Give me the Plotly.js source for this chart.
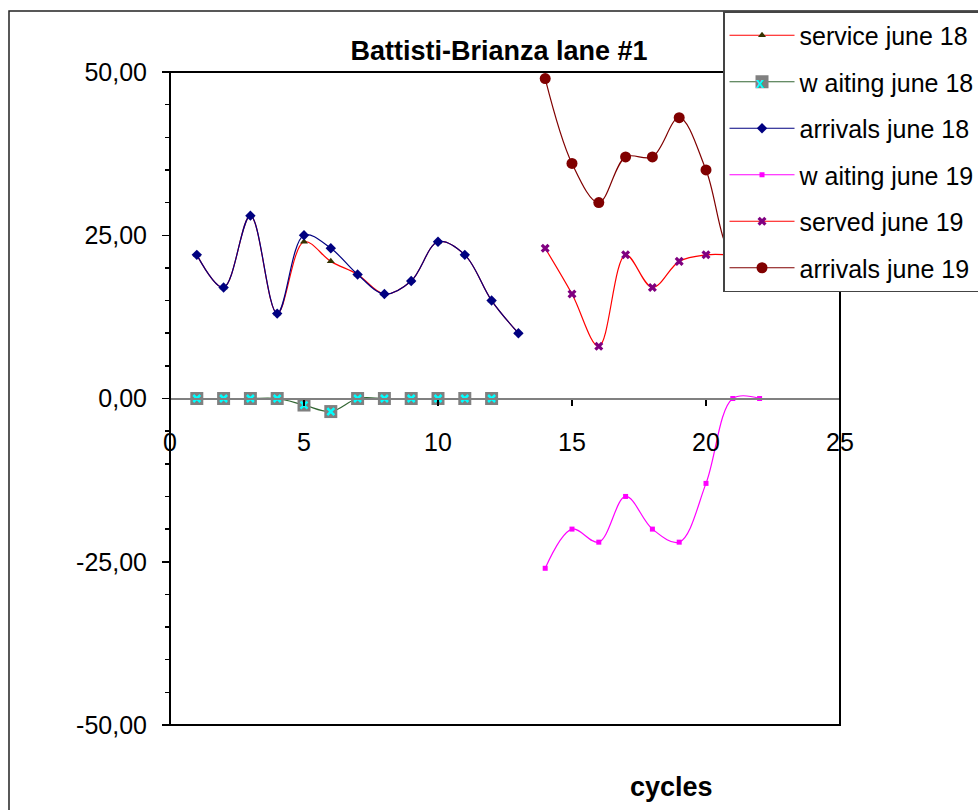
<!DOCTYPE html>
<html>
<head>
<meta charset="utf-8">
<script src="https://cdn.plot.ly/plotly-3.0.1.min.js"></script>
<style>
  html, body { margin: 0; padding: 0; background: #ffffff; }
  #chart { width: 978px; height: 810px; }
</style>
</head>
<body>
<div id="chart"></div>
<script>
// Lane #1 counts per signal cycle
const cycles18 = [1, 2, 3, 4, 5, 6, 7, 8, 9, 10, 11, 12, 13];
const service18 = [22, 17, 28, 13, 24, 21, 19, 16, 18, 24, 22, 15, 10];
const arrivals18 = [22, 17, 28, 13, 25, 23, 19, 16, 18, 24, 22, 15, 10];
const cyclesWaiting18 = [1, 2, 3, 4, 5, 6, 7, 8, 9, 10, 11, 12];
const waiting18 = [0, 0, 0, 0, -1, -2, 0, 0, 0, 0, 0, 0];

const cycles19 = [14, 15, 16, 17, 18, 19, 20, 21, 22];
const waiting19 = [-26, -20, -22, -15, -20, -22, -13, 0, 0];
const served19 = [23, 16, 8, 22, 17, 21, 22, 22, 22];
const arrivals19 = [49, 36, 30, 37, 37, 43, 35, 22, 22];

const seriesNames = ['service june 18', 'w aiting june 18', 'arrivals june 18',
                     'w aiting june 19', 'served june 19', 'arrivals june 19'];
const xTicks = [0, 5, 10, 15, 20, 25];
const yTicks = [-50, -25, 0, 25, 50];
const yTickText = ['-50,00', '-25,00', '0,00', '25,00', '50,00'];

const FONT = 'Liberation Sans, Arial, sans-serif';

function series(name, group, x, y, lineColor, marker) {
  return {
    type: 'scatter', mode: 'lines+markers', name: name, legendgroup: group,
    x: x, y: y,
    line: { color: lineColor, width: 1.2, shape: 'spline', smoothing: 1 },
    marker: marker
  };
}

const traces = [
  series(seriesNames[0], 'g1', cycles18, service18, '#ff0000',
         { symbol: 'triangle-up', size: 7, color: '#333300' }),
  series(seriesNames[1], 'g2', cyclesWaiting18, waiting18, '#336633',
         { symbol: 'square', size: 13, color: '#808080' }),
  // cyan cross drawn on top of the grey squares
  {
    type: 'scatter', mode: 'markers', legendgroup: 'g2', showlegend: false,
    x: cyclesWaiting18, y: waiting18, hoverinfo: 'skip',
    marker: { symbol: 'x-thin', size: 7, line: { color: '#00ffff', width: 2.5 } }
  },
  series(seriesNames[2], 'g3', cycles18, arrivals18, '#000080',
         { symbol: 'diamond', size: 8, color: '#000080' }),
  series(seriesNames[3], 'g4', cycles19, waiting19, '#ff00ff',
         { symbol: 'square', size: 5, color: '#ff00ff' }),
  series(seriesNames[4], 'g5', cycles19, served19, '#ff0000',
         { symbol: 'x', size: 8, color: '#800080' }),
  series(seriesNames[5], 'g6', cycles19, arrivals19, '#800000',
         { symbol: 'circle', size: 11, color: '#800000' })
];

const layout = {
  width: 978, height: 810,
  margin: { l: 170, r: 138, t: 72, b: 85, autoexpand: false },
  paper_bgcolor: '#ffffff', plot_bgcolor: '#ffffff',
  font: { family: FONT, size: 24, color: '#000000' },
  showlegend: true,
  title: {
    text: '<b>Battisti-Brianza lane #1</b>',
    font: { family: FONT, size: 27, color: '#000000' },
    xref: 'container', yref: 'container',
    x: 0.5102, xanchor: 'center', y: 0.937, yanchor: 'middle'
  },
  xaxis: {
    range: [0, 25], tickvals: xTicks,
    anchor: 'free', position: 0.5,
    showline: true, linecolor: '#808080', linewidth: 2,
    ticks: 'outside', ticklen: 6, tickwidth: 1.5, tickcolor: '#000000',
    ticklabelstandoff: 15,
    tickfont: { family: FONT, size: 25 },
    showgrid: false, zeroline: false
  },
  yaxis: {
    range: [-50, 50], tickvals: yTicks, ticktext: yTickText,
    showline: false,
    ticks: 'outside', ticklen: 7, tickwidth: 1.5, tickcolor: '#000000',
    minor: { dtick: 5, ticks: 'outside', ticklen: 4, tickwidth: 1.5, tickcolor: '#000000' },
    ticklabelstandoff: 10,
    tickfont: { family: FONT, size: 25 },
    showgrid: false, zeroline: false
  },
  legend: {
    x: 0.8254, xanchor: 'left', xref: 'paper',
    y: 1.0934, yanchor: 'top', yref: 'paper',
    bgcolor: '#ffffff', bordercolor: '#444444', borderwidth: 1.5,
    font: { family: FONT, size: 25, color: '#000000' },
    itemwidth: 65, tracegroupgap: 11, traceorder: 'grouped',
    itemclick: false
  },
  shapes: [
    // plot area frame
    { type: 'rect', xref: 'paper', yref: 'paper', x0: 0, x1: 1, y0: 0, y1: 1,
      line: { color: '#000000', width: 2 }, layer: 'above' },
    // chart area frame
    { type: 'rect', xref: 'paper', yref: 'paper', x0: -0.2403, x1: 1.6, y0: -0.4, y1: 1.0934,
      line: { color: '#222222', width: 1.5 }, layer: 'below' }
  ],
  annotations: [
    { text: '<b>cycles</b>', xref: 'paper', yref: 'paper', x: 0.749, y: -0.095,
      xanchor: 'center', yanchor: 'middle', showarrow: false,
      font: { family: FONT, size: 27, color: '#000000' } },
    // cyan cross on the legend's grey square
    { text: '<b>x</b>', xref: 'paper', yref: 'paper', x: 0.8813, y: 0.9832,
      xanchor: 'center', yanchor: 'middle', showarrow: false,
      font: { family: FONT, size: 15, color: '#00ffff' } }
  ]
};

Plotly.newPlot('chart', traces, layout, { displayModeBar: false, staticPlot: true });
</script>
</body>
</html>
